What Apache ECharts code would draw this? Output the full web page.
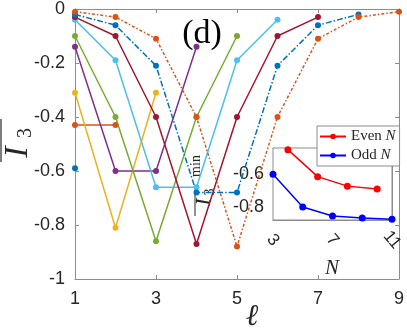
<!DOCTYPE html>
<html>
<head>
<meta charset="utf-8">
<script src="https://cdn.jsdelivr.net/npm/echarts@6/dist/echarts.min.js"></script>
<style>
html, body { margin: 0; padding: 0; background: #fff; }
#main { width: 407px; height: 332px; }
</style>
</head>
<body>
<div id="main"></div>
<script>
// I3 bar vs ell, one curve per system size
var curveA = [-0.59];
var curveB = [-0.43, -0.43];
var curveC = [-0.31, -0.81, -0.31];
var curveD = [-0.14, -0.60, -0.60, -0.14];
var curveE = [-0.10, -0.40, -0.86, -0.40, -0.10];
var curveF = [-0.04, -0.19, -0.66, -0.66, -0.19, -0.04];
var curveG = [-0.03, -0.10, -0.40, -0.87, -0.40, -0.10, -0.03];
var curveH = [-0.02, -0.06, -0.21, -0.68, -0.68, -0.21, -0.06, -0.02];
var curveJ = [-0.01, -0.03, -0.11, -0.40, -0.88, -0.40, -0.11, -0.03, -0.01];

// inset: minimum vs N
var evenN = [4, 6, 8, 10];
var evenMin = [-0.45, -0.615, -0.673, -0.69];
var oddN = [3, 5, 7, 9, 11];
var oddMin = [-0.60, -0.80, -0.856, -0.868, -0.876];

var xTicks = [1, 3, 5, 7, 9];
var insetXTicks = [3, 7, 11];
var insetYTicks = [-0.8, -0.6];

var axisGray = '#8c8c8c';
var textCol = '#262626';
var sans = "'Liberation Sans', Arial, sans-serif";
var serif = "'Liberation Serif', 'DejaVu Serif', serif";

function pts(ys) {
    return ys.map(function (v, i) { return [i + 1, v]; });
}
function pairs(xs, ys) {
    return xs.map(function (x, i) { return [x, ys[i]]; });
}
function mainLine(ys, color, dash) {
    return {
        type: 'line', xAxisIndex: 0, yAxisIndex: 0,
        data: pts(ys), symbol: 'circle', symbolSize: 6,
        itemStyle: { color: color },
        lineStyle: { color: color, width: 1.5, type: dash || 'solid' },
        animation: false, z: 3
    };
}

var chart = echarts.init(document.getElementById('main'));

var frameAxis = function (grid, pos, min, max, ticks) {
    return {
        type: 'value', gridIndex: grid, position: pos, min: min, max: max,
        axisLine: { show: true, onZero: false, lineStyle: { color: axisGray, width: 1 } },
        axisTick: { show: true, inside: true, length: 4, customValues: ticks, lineStyle: { color: axisGray } },
        axisLabel: { show: false },
        splitLine: { show: false }
    };
};

var xTop = frameAxis(0, 'top', 1, 9, xTicks);
var yRight = frameAxis(0, 'right', -1, 0, null);
yRight.interval = 0.2;
delete yRight.axisTick.customValues;
var xInsetTop = frameAxis(1, 'top', 3, 11, insetXTicks);
var yInsetRight = frameAxis(1, 'right', -0.88, -0.44, insetYTicks);

chart.setOption({
    backgroundColor: '#fff',
    animation: false,
    grid: [
        { left: 75, right: 7, top: 9, bottom: 53 },
        { left: 273, top: 148, width: 119, height: 72, show: true,
          backgroundColor: '#fff', borderColor: axisGray, borderWidth: 1, z: 4 }
    ],
    legend: {
        data: ['Even N', 'Odd N'],
        orient: 'vertical', left: 317, top: 126,
        itemWidth: 26, itemHeight: 7, itemGap: 4,
        padding: [3, 4, 3, 2],
        backgroundColor: '#fff', borderColor: axisGray, borderWidth: 1,
        z: 10,
        formatter: function (name) {
            return '{t|' + name.split(' ')[0] + ' }{n|N}';
        },
        textStyle: {
            rich: {
                t: { fontFamily: serif, fontSize: 15, color: textCol },
                n: { fontFamily: serif, fontStyle: 'italic', fontSize: 15, color: textCol }
            }
        }
    },
    xAxis: [
        {
            type: 'value', gridIndex: 0, position: 'bottom', min: 1, max: 9,
            axisLine: { show: true, onZero: false, lineStyle: { color: axisGray } },
            axisTick: { show: true, inside: true, length: 4, customValues: xTicks, lineStyle: { color: axisGray } },
            axisLabel: { customValues: xTicks, margin: 11, fontFamily: sans, fontSize: 18, color: textCol },
            splitLine: { show: false }
        },
        xTop,
        {
            type: 'value', gridIndex: 1, position: 'bottom', min: 3, max: 11,
            axisLine: { show: true, onZero: false, lineStyle: { color: axisGray } },
            axisTick: { show: true, inside: true, length: 3, customValues: insetXTicks, lineStyle: { color: axisGray } },
            axisLabel: { customValues: insetXTicks, rotate: -50, margin: 20, align: 'center', verticalAlign: 'middle',
                         fontFamily: sans, fontSize: 17, color: textCol },
            splitLine: { show: false }
        },
        xInsetTop
    ],
    yAxis: [
        {
            type: 'value', gridIndex: 0, position: 'left', min: -1, max: 0, interval: 0.2,
            axisLine: { show: true, onZero: false, lineStyle: { color: axisGray } },
            axisTick: { show: true, inside: true, length: 4, lineStyle: { color: axisGray } },
            axisLabel: { margin: 10, fontFamily: sans, fontSize: 18, color: textCol },
            splitLine: { show: false }
        },
        yRight,
        {
            type: 'value', gridIndex: 1, position: 'left', min: -0.88, max: -0.44,
            axisLine: { show: true, onZero: false, lineStyle: { color: axisGray } },
            axisTick: { show: true, inside: true, length: 3, customValues: insetYTicks, lineStyle: { color: axisGray } },
            axisLabel: { customValues: insetYTicks, margin: 9, fontFamily: sans, fontSize: 18, color: textCol,
                         backgroundColor: '#fff' },
            splitLine: { show: false }
        },
        yInsetRight
    ],
    series: [
        mainLine(curveA, '#0072BD'),
        mainLine(curveB, '#D95319'),
        mainLine(curveC, '#EDB120'),
        mainLine(curveD, '#7E2F8E'),
        mainLine(curveE, '#77AC30'),
        mainLine(curveF, '#4DBEEE'),
        mainLine(curveG, '#A2142F'),
        mainLine(curveH, '#0072BD', [6, 2, 1.5, 2]),
        mainLine(curveJ, '#D95319', [3, 2, 1.5, 2]),
        {
            name: 'Even N', type: 'line', xAxisIndex: 2, yAxisIndex: 2,
            data: pairs(evenN, evenMin), symbol: 'circle', symbolSize: 7,
            itemStyle: { color: '#FF0000' }, lineStyle: { color: '#FF0000', width: 1.5 }, z: 6
        },
        {
            name: 'Odd N', type: 'line', xAxisIndex: 2, yAxisIndex: 2,
            data: pairs(oddN, oddMin), symbol: 'circle', symbolSize: 7,
            itemStyle: { color: '#0000FF' }, lineStyle: { color: '#0000FF', width: 1.5 }, z: 6
        }
    ],
    graphic: [
        { type: 'text', x: 202, y: 34, z: 20,
          style: { text: '(d)', font: '34px ' + serif, fill: '#000', align: 'center', verticalAlign: 'middle' } },
        { type: 'text', x: 252, y: 317, z: 20,
          style: { text: '\u2113', font: 'italic 30px ' + serif, fill: textCol, align: 'center', verticalAlign: 'middle' } },
        { type: 'text', x: 332, y: 268, z: 20,
          style: { text: 'N', font: 'italic 21px ' + serif, fill: textCol, align: 'center', verticalAlign: 'middle' } },
        // main y label: overline I_3
        { type: 'group', x: 18, y: 152, rotation: Math.PI / 2, z: 20, children: [
            { type: 'text', x: 0, y: 0,
              style: { text: 'I', font: 'italic 34px ' + serif, fill: textCol, align: 'center', verticalAlign: 'middle' } },
            { type: 'text', x: 19, y: 8,
              style: { text: '3', font: '20px ' + serif, fill: textCol, align: 'center', verticalAlign: 'middle' } },
            { type: 'line', shape: { x1: -10, y1: -17, x2: 33, y2: -17 },
              style: { stroke: textCol, lineWidth: 1.2 } }
        ] },
        // inset y label: overline I_3 ^ min
        { type: 'group', x: 204, y: 202, rotation: Math.PI / 2, z: 20, children: [
            { type: 'text', x: 0, y: 0,
              style: { text: 'I', font: 'italic 22px ' + serif, fill: textCol, align: 'center', verticalAlign: 'middle' } },
            { type: 'text', x: 10, y: 6,
              style: { text: '3', font: '14px ' + serif, fill: textCol, align: 'center', verticalAlign: 'middle' } },
            { type: 'text', x: 36, y: -8,
              style: { text: 'min', font: '14px ' + serif, fill: textCol, align: 'center', verticalAlign: 'middle' } },
            { type: 'line', shape: { x1: -14, y1: -9, x2: 16, y2: -9 },
              style: { stroke: textCol, lineWidth: 1 } }
        ] }
    ]
});
</script>
</body>
</html>
